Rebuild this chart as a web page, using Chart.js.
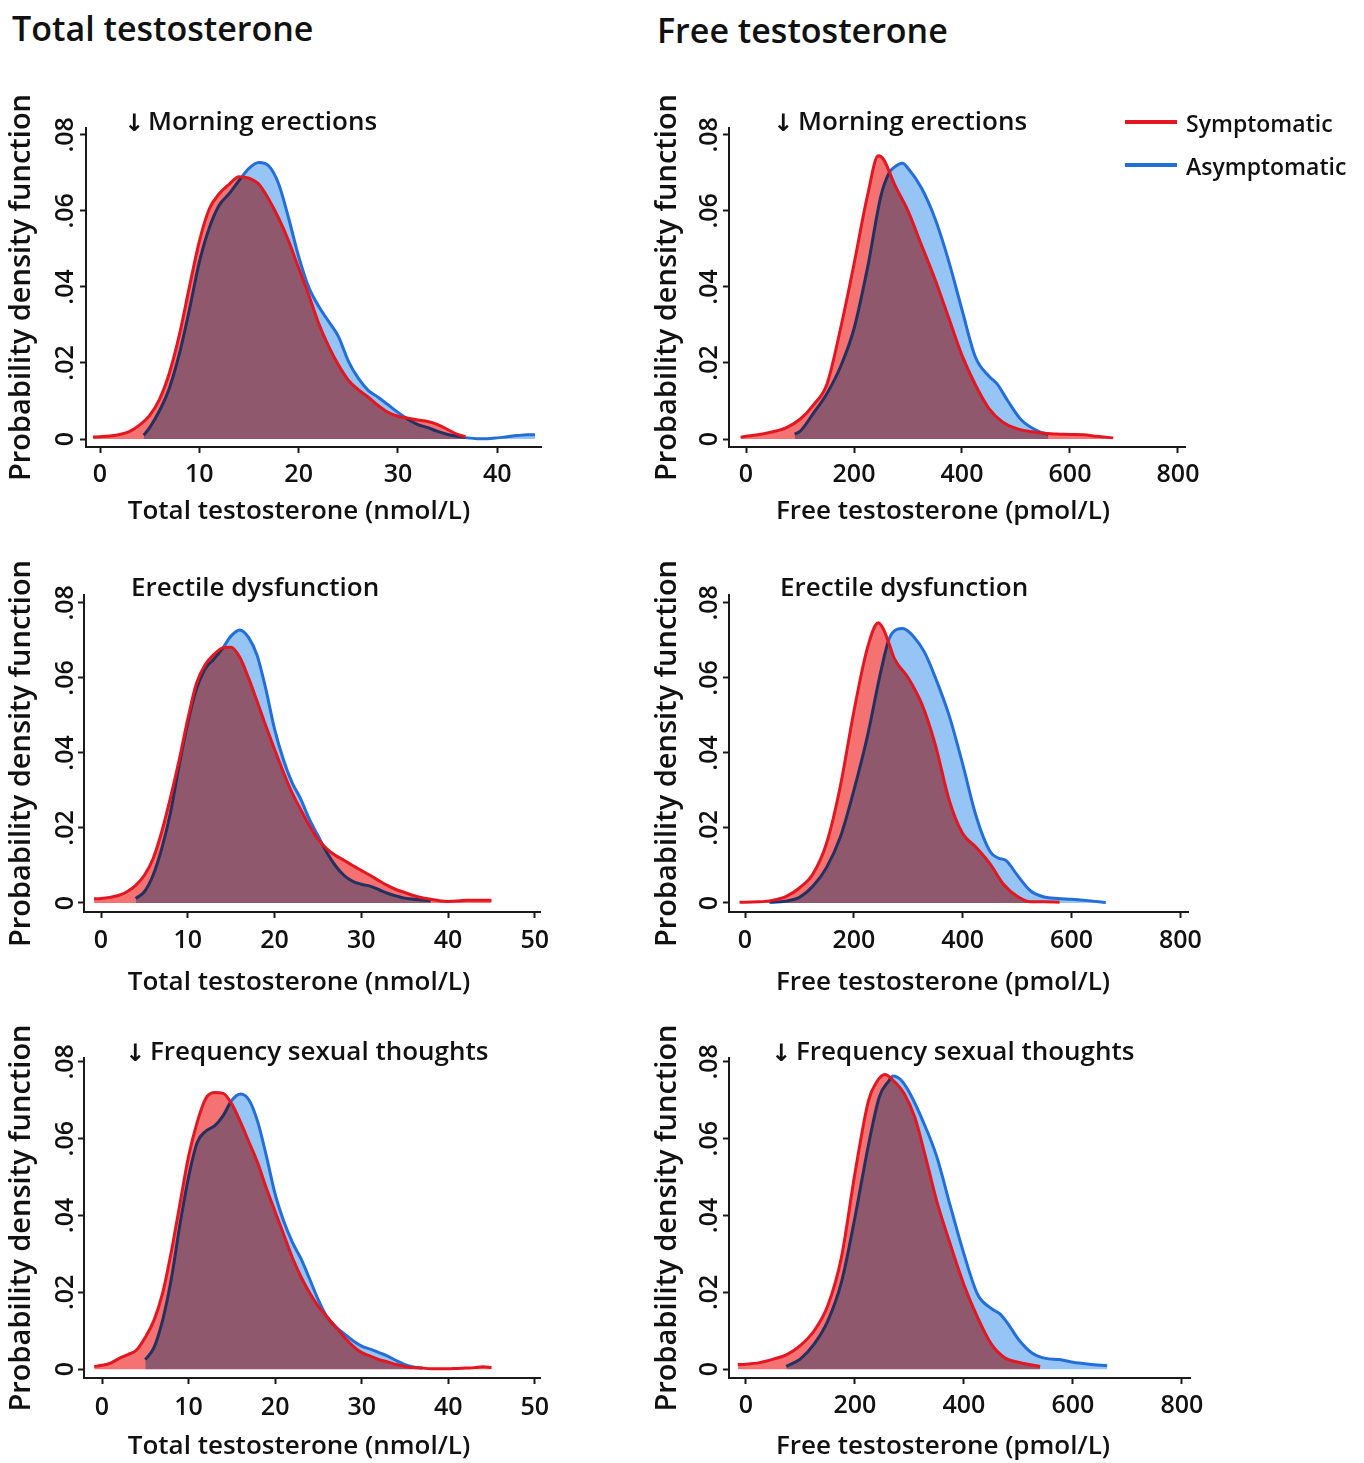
<!DOCTYPE html>
<html>
<head>
<meta charset="utf-8">
<script src="https://cdn.jsdelivr.net/npm/chart.js@4.4.1/dist/chart.umd.min.js"></script>
<style>
  html, body { margin: 0; padding: 0; background: #fff; }
  #page { position: relative; width: 1364px; height: 1463px; overflow: hidden; font-family: "Open Sans", sans-serif; color: #111; }
  #page canvas { position: absolute; }
  .txt { position: absolute; white-space: nowrap; font-weight: 600; }
  .arrow { font-family: "DejaVu Sans", sans-serif; font-weight: 700; }
  .legline { position: absolute; height: 4px; width: 52px; }
</style>
</head>
<body>
<div id="page"></div>
<script>
// tick values and labels
const xTicksTotal40 = [0, 10, 20, 30, 40];
const xTicksTotal50 = [0, 10, 20, 30, 40, 50];
const xTicksFree = [0, 200, 400, 600, 800];
const yTicks = [0, 0.02, 0.04, 0.06, 0.08];
const yTickLabels = ['0', '.02', '.04', '.06', '.08'];

// Morning erections - total testosterone
const meTotalSymX = [-0.7, 0, 1, 2, 3, 4, 5, 6, 7, 8, 9, 10, 11, 12, 13, 14, 15, 16, 17, 18, 19, 20, 21, 22, 23, 24, 25, 26, 27, 28, 29, 30, 31, 32, 33, 34, 35, 36, 36.8];
const meTotalSymY = [0.0005, 0.0006, 0.0008, 0.0012, 0.002, 0.0037, 0.0062, 0.0105, 0.0175, 0.0275, 0.040, 0.052, 0.0605, 0.0645, 0.067, 0.069, 0.0686, 0.067, 0.063, 0.058, 0.052, 0.045, 0.038, 0.0305, 0.0245, 0.0195, 0.0155, 0.013, 0.011, 0.0088, 0.007, 0.006, 0.0055, 0.005, 0.0046, 0.0038, 0.0025, 0.0012, 0.0006];
const meTotalAsymX = [4.4, 5, 6, 7, 8, 9, 10, 11, 12, 13, 14, 15, 16, 17, 18, 19, 20, 21, 22, 23, 24, 25, 26, 27, 28, 29, 30, 31, 32, 33, 34, 35, 36, 37, 38, 39, 40, 41, 42, 43, 43.8];
const meTotalAsymY = [0.001, 0.003, 0.0075, 0.0135, 0.0225, 0.034, 0.0465, 0.0555, 0.0615, 0.0645, 0.068, 0.0712, 0.0727, 0.0718, 0.067, 0.058, 0.048, 0.040, 0.035, 0.031, 0.027, 0.0205, 0.016, 0.0128, 0.011, 0.009, 0.007, 0.0052, 0.0038, 0.003, 0.002, 0.0012, 0.0007, 0.0003, 0.0001, 0.0001, 0.0003, 0.0006, 0.0009, 0.0011, 0.0011];

// Morning erections - free testosterone
const meFreeSymX = [-10, 0, 25, 50, 75, 100, 125, 150, 175, 200, 225, 245, 255, 275, 300, 325, 350, 375, 400, 425, 450, 475, 500, 525, 550, 575, 600, 625, 650, 680];
const meFreeSymY = [0.0005, 0.0007, 0.0012, 0.0019, 0.003, 0.0052, 0.009, 0.0145, 0.029, 0.046, 0.064, 0.0745, 0.0735, 0.067, 0.060, 0.051, 0.042, 0.032, 0.022, 0.0142, 0.008, 0.0045, 0.0028, 0.002, 0.0016, 0.0013, 0.0012, 0.0011, 0.0007, 0.0003];
const meFreeAsymX = [90, 100, 125, 150, 175, 200, 225, 250, 265, 275, 290, 300, 325, 350, 375, 400, 425, 450, 465, 485, 510, 545, 560];
const meFreeAsymY = [0.0013, 0.002, 0.0068, 0.012, 0.019, 0.029, 0.045, 0.064, 0.070, 0.0715, 0.0725, 0.0712, 0.066, 0.058, 0.047, 0.034, 0.0215, 0.0165, 0.0145, 0.010, 0.005, 0.0018, 0.0012];

// Erectile dysfunction - total testosterone
const edTotalSymX = [-0.8, 0, 1, 2, 3, 4, 5, 6, 7, 8, 9, 10, 11, 12, 13, 14, 15, 16, 17, 18, 19, 20, 21, 22, 23, 24, 25, 26, 27, 28, 29, 30, 31, 32, 33, 34, 35, 36, 37, 38, 39, 40, 41, 42, 43, 44, 45];
const edTotalSymY = [0.0011, 0.0012, 0.0015, 0.002, 0.003, 0.0047, 0.0074, 0.0118, 0.019, 0.028, 0.038, 0.049, 0.0585, 0.0635, 0.0662, 0.068, 0.0682, 0.0655, 0.060, 0.0537, 0.0472, 0.041, 0.035, 0.0295, 0.025, 0.0207, 0.017, 0.0145, 0.0127, 0.0114, 0.010, 0.0087, 0.0074, 0.006, 0.0047, 0.0036, 0.0028, 0.002, 0.0014, 0.001, 0.0006, 0.0004, 0.0005, 0.0007, 0.0007, 0.0007, 0.0007];
const edTotalAsymX = [4, 5, 6, 7, 8, 9, 10, 11, 12, 13, 14, 15, 16, 17, 18, 19, 20, 21, 22, 23, 24, 25, 26, 27, 28, 29, 30, 31, 32, 33, 34, 35, 36, 37, 38];
const edTotalAsymY = [0.0012, 0.003, 0.0074, 0.0145, 0.024, 0.0366, 0.048, 0.057, 0.0624, 0.065, 0.0678, 0.0712, 0.0728, 0.0708, 0.066, 0.057, 0.0464, 0.0384, 0.0322, 0.0278, 0.0224, 0.018, 0.0136, 0.010, 0.0074, 0.0058, 0.005, 0.0045, 0.0036, 0.0026, 0.0019, 0.0013, 0.001, 0.0008, 0.0006];

// Erectile dysfunction - free testosterone
const edFreeSymX = [-10, 0, 25, 50, 75, 100, 125, 150, 175, 200, 225, 245, 255, 265, 275, 300, 325, 350, 375, 400, 425, 450, 475, 500, 525, 550, 578];
const edFreeSymY = [0.0002, 0.0002, 0.0003, 0.0007, 0.0017, 0.004, 0.0078, 0.016, 0.031, 0.051, 0.068, 0.0747, 0.0728, 0.069, 0.065, 0.060, 0.053, 0.042, 0.0275, 0.0185, 0.0148, 0.0105, 0.005, 0.0018, 0.0003, 0.0003, 0.0002];
const edFreeAsymX = [45, 75, 100, 125, 150, 175, 200, 225, 250, 265, 280, 290, 310, 330, 350, 375, 400, 425, 450, 465, 480, 500, 525, 550, 575, 600, 625, 663];
const edFreeAsymY = [0.0001, 0.0005, 0.0015, 0.0045, 0.0095, 0.0175, 0.030, 0.0445, 0.062, 0.0705, 0.073, 0.0732, 0.071, 0.0668, 0.060, 0.050, 0.037, 0.023, 0.0138, 0.012, 0.0113, 0.0075, 0.0032, 0.0016, 0.0012, 0.001, 0.0007, 0.0001];

// Frequency sexual thoughts - total testosterone
const stTotalSymX = [-0.9, 0, 1, 2, 3, 4, 5, 6, 7, 8, 9, 10, 11, 12, 13, 14, 15, 16, 17, 18, 19, 20, 21, 22, 23, 24, 25, 26, 27, 28, 29, 30, 31, 32, 33, 34, 35, 36, 37, 38, 39, 40, 41, 42, 43, 44, 45];
const stTotalSymY = [0.0007, 0.001, 0.0016, 0.0028, 0.0038, 0.005, 0.0083, 0.0127, 0.0198, 0.0305, 0.043, 0.0554, 0.0643, 0.0705, 0.072, 0.0718, 0.069, 0.0643, 0.059, 0.0536, 0.047, 0.041, 0.035, 0.029, 0.024, 0.0198, 0.0163, 0.0136, 0.011, 0.0083, 0.006, 0.0043, 0.0034, 0.0025, 0.0019, 0.0012, 0.0007, 0.0004, 0.0003, 0.0001, 0.0001, 0.0001, 0.0002, 0.0003, 0.0004, 0.0006, 0.0004];
const stTotalAsymX = [5, 6, 7, 8, 9, 10, 11, 12, 13, 14, 15, 16, 17, 18, 19, 20, 21, 22, 23, 24, 25, 26, 27, 28, 29, 30, 31, 32, 33, 34, 35, 36, 37];
const stTotalAsymY = [0.0025, 0.0056, 0.0127, 0.0234, 0.0376, 0.050, 0.059, 0.062, 0.0633, 0.066, 0.070, 0.0716, 0.070, 0.0643, 0.0554, 0.0456, 0.0385, 0.033, 0.0287, 0.0234, 0.018, 0.0136, 0.011, 0.0092, 0.0074, 0.006, 0.0052, 0.0043, 0.0034, 0.0022, 0.0012, 0.0006, 0.0003];

// Frequency sexual thoughts - free testosterone
const stFreeSymX = [-15, 0, 25, 50, 75, 100, 125, 150, 175, 200, 225, 240, 255, 270, 290, 310, 330, 350, 375, 400, 425, 450, 475, 500, 525, 540];
const stFreeSymY = [0.0012, 0.0013, 0.0017, 0.0026, 0.0038, 0.0062, 0.010, 0.0165, 0.029, 0.051, 0.070, 0.0748, 0.0767, 0.0752, 0.0718, 0.0655, 0.055, 0.0438, 0.0325, 0.022, 0.0135, 0.0066, 0.003, 0.0018, 0.0011, 0.0007];
const stFreeAsymX = [74, 100, 125, 150, 175, 200, 225, 245, 262, 270, 285, 300, 325, 350, 375, 400, 425, 450, 465, 480, 500, 525, 550, 575, 600, 630, 663];
const stFreeAsymY = [0.0007, 0.0027, 0.0065, 0.0125, 0.0225, 0.0395, 0.0585, 0.071, 0.075, 0.0763, 0.0752, 0.072, 0.0645, 0.0554, 0.0425, 0.030, 0.0195, 0.0158, 0.0145, 0.012, 0.0078, 0.0042, 0.0028, 0.0025, 0.0018, 0.0013, 0.0009];

const RED = 'rgb(228,22,32)';
const BLUE = 'rgb(35,110,215)';
const RED_FILL = 'rgb(244,114,114)';
const BLUE_FILL = 'rgb(150,196,244)';
const TEXT = '#111';
const FONT = '"Open Sans", sans-serif';

const page = document.getElementById('page');

function toPoints(xs, ys) {
  return xs.map((x, i) => ({x: x, y: ys[i]}));
}

function addText(text, left, cy, size, cls) {
  const d = document.createElement('div');
  d.className = 'txt' + (cls ? ' ' + cls : '');
  d.textContent = text;
  d.style.left = left + 'px';
  d.style.top = (cy - size * 0.6) + 'px';
  d.style.fontSize = size + 'px';
  d.style.lineHeight = (size * 1.2) + 'px';
  page.appendChild(d);
}

// fills are multiplied, lines drawn normally on top
const blendPlugin = {
  id: 'blend',
  beforeDatasetsDraw(chart) { chart.ctx.globalCompositeOperation = 'multiply'; },
  beforeDatasetDraw(chart) { chart.ctx.globalCompositeOperation = 'source-over'; },
  afterDatasetDraw(chart) { chart.ctx.globalCompositeOperation = 'multiply'; },
  afterDatasetsDraw(chart) { chart.ctx.globalCompositeOperation = 'source-over'; }
};

function labelPlugin(p) {
  return {
    id: 'panelLabels',
    afterDraw(chart) {
      const ctx = chart.ctx;
      const ys = chart.scales.y;
      ctx.save();
      ctx.fillStyle = TEXT;
      ctx.font = '600 25px ' + FONT;
      ctx.textAlign = 'center';
      ctx.textBaseline = 'middle';
      yTicks.forEach((v, i) => {
        ctx.save();
        ctx.translate(p.yLabX - p.left, ys.getPixelForValue(v));
        ctx.rotate(-Math.PI / 2);
        ctx.fillText(yTickLabels[i], 0, 0);
        ctx.restore();
      });
      ctx.font = '600 26px ' + FONT;
      ctx.fillText(p.xTitle, p.xTitleCx - p.left, p.xTitleCy - p.top);
      ctx.restore();
    }
  };
}

function makePanel(p) {
  const cv = document.createElement('canvas');
  cv.width = p.w;
  cv.height = p.h;
  cv.style.left = p.left + 'px';
  cv.style.top = p.top + 'px';
  page.appendChild(cv);
  const a = p.area;
  const yBoxW = a.l - p.left;
  const xBoxH = p.top + p.h - a.b;
  const tickLen = 6;
  const tickFont = 25;
  const yTitleSize = 29;
  new Chart(cv, {
    type: 'line',
    data: {
      datasets: [
        {
          label: 'Symptomatic', data: toPoints(p.symX, p.symY), order: 1,
          borderColor: RED, backgroundColor: RED_FILL, fill: 'origin',
          borderWidth: 3, pointRadius: 0, cubicInterpolationMode: 'monotone'
        },
        {
          label: 'Asymptomatic', data: toPoints(p.asymX, p.asymY), order: 2,
          borderColor: BLUE, backgroundColor: BLUE_FILL, fill: 'origin',
          borderWidth: 3, pointRadius: 0, cubicInterpolationMode: 'monotone'
        }
      ]
    },
    options: {
      responsive: false,
      animation: false,
      devicePixelRatio: 1,
      layout: { padding: { left: 0, top: a.t - p.top, right: p.left + p.w - a.r, bottom: 0 } },
      plugins: { legend: { display: false }, tooltip: { enabled: false } },
      scales: {
        x: {
          type: 'linear', min: p.xMin, max: p.xMax,
          afterBuildTicks: s => { s.ticks = p.xTicks.map(v => ({value: v})); },
          afterFit: s => { s.height = xBoxH; },
          grid: { display: true, drawOnChartArea: false, drawTicks: true, tickLength: tickLen, tickColor: '#1a1a1a', tickWidth: 2 },
          border: { display: true, color: '#1a1a1a', width: 2 },
          ticks: {
            autoSkip: false, maxRotation: 0, color: TEXT,
            font: { family: FONT, size: tickFont, weight: '600' },
            padding: p.xLabCy - a.b - tickLen - tickFont * 0.6,
            callback: v => String(v)
          }
        },
        y: {
          type: 'linear', min: p.yMin, max: p.yMax,
          afterBuildTicks: s => { s.ticks = yTicks.map(v => ({value: v})); },
          afterFit: s => { s.width = yBoxW; },
          grid: { display: true, drawOnChartArea: false, drawTicks: true, tickLength: tickLen, tickColor: '#1a1a1a', tickWidth: 2 },
          border: { display: true, color: '#1a1a1a', width: 2 },
          ticks: { display: false },
          title: {
            display: true, text: 'Probability density function', color: TEXT,
            font: { family: FONT, size: yTitleSize, weight: '600' },
            padding: { top: p.yTitleCx - p.left - yTitleSize * 0.6, bottom: 0 }
          }
        }
      }
    },
    plugins: [blendPlugin, labelPlugin(p)]
  });
}

const totalTitle = 'Total testosterone (nmol/L)';
const freeTitle = 'Free testosterone (pmol/L)';

const panels = [
  { left: 0, top: 90, w: 580, h: 450, area: {l: 86, t: 128, r: 541, b: 447},
    xMin: -1.41, xMax: 44.4, yMin: -0.0021, yMax: 0.0818, xTicks: xTicksTotal40,
    symX: meTotalSymX, symY: meTotalSymY, asymX: meTotalAsymX, asymY: meTotalAsymY,
    yLabX: 66, yTitleCx: 22, xTitle: totalTitle, xTitleCx: 299, xTitleCy: 512, xLabCy: 475 },
  { left: 640, top: 90, w: 600, h: 450, area: {l: 729, t: 128, r: 1185, b: 447},
    xMin: -31.5, xMax: 813, yMin: -0.0021, yMax: 0.0818, xTicks: xTicksFree,
    symX: meFreeSymX, symY: meFreeSymY, asymX: meFreeAsymX, asymY: meFreeAsymY,
    yLabX: 710, yTitleCx: 668, xTitle: freeTitle, xTitleCx: 943, xTitleCy: 512, xLabCy: 475 },
  { left: 0, top: 555, w: 580, h: 450, area: {l: 84, t: 595, r: 540, b: 912},
    xMin: -1.96, xMax: 50.6, yMin: -0.0024, yMax: 0.0821, xTicks: xTicksTotal50,
    symX: edTotalSymX, symY: edTotalSymY, asymX: edTotalAsymX, asymY: edTotalAsymY,
    yLabX: 66, yTitleCx: 22, xTitle: totalTitle, xTitleCx: 299, xTitleCy: 983, xLabCy: 941 },
  { left: 640, top: 555, w: 600, h: 450, area: {l: 729, t: 595, r: 1188, b: 912},
    xMin: -29.4, xMax: 814, yMin: -0.0024, yMax: 0.0821, xTicks: xTicksFree,
    symX: edFreeSymX, symY: edFreeSymY, asymX: edFreeAsymX, asymY: edFreeAsymY,
    yLabX: 710, yTitleCx: 668, xTitle: freeTitle, xTitleCx: 943, xTitleCy: 983, xLabCy: 941 },
  { left: 0, top: 1020, w: 580, h: 443, area: {l: 84, t: 1058, r: 540, b: 1378},
    xMin: -2.08, xMax: 50.6, yMin: -0.0023, yMax: 0.081, xTicks: xTicksTotal50,
    symX: stTotalSymX, symY: stTotalSymY, asymX: stTotalAsymX, asymY: stTotalAsymY,
    yLabX: 66, yTitleCx: 22, xTitle: totalTitle, xTitleCx: 299, xTitleCy: 1447, xLabCy: 1408 },
  { left: 640, top: 1020, w: 600, h: 443, area: {l: 729, t: 1058, r: 1190, b: 1378},
    xMin: -31.2, xMax: 815, yMin: -0.0023, yMax: 0.081, xTicks: xTicksFree,
    symX: stFreeSymX, symY: stFreeSymY, asymX: stFreeAsymX, asymY: stFreeAsymY,
    yLabX: 710, yTitleCx: 668, xTitle: freeTitle, xTitleCx: 943, xTitleCy: 1447, xLabCy: 1406 }
];

panels.forEach(makePanel);

// headings and panel subtitles
addText('Total testosterone', 12, 28, 34);
addText('Free testosterone', 657, 30, 34);
addText('\u2193', 124, 123, 24, 'arrow');
addText('Morning erections', 148, 121, 26);
addText('\u2193', 773, 123, 24, 'arrow');
addText('Morning erections', 798, 121, 26);
addText('Erectile dysfunction', 131, 587, 26);
addText('Erectile dysfunction', 780, 587, 26);
addText('\u2193', 125, 1053, 24, 'arrow');
addText('Frequency sexual thoughts', 150, 1051, 26);
addText('\u2193', 771, 1053, 24, 'arrow');
addText('Frequency sexual thoughts', 796, 1051, 26);

// legend
const legendItems = [
  { label: 'Symptomatic', color: RED, cy: 122 },
  { label: 'Asymptomatic', color: BLUE, cy: 165 }
];
legendItems.forEach(it => {
  const ln = document.createElement('div');
  ln.className = 'legline';
  ln.style.left = '1125px';
  ln.style.top = (it.cy - 2) + 'px';
  ln.style.background = it.color;
  page.appendChild(ln);
  addText(it.label, 1186, it.cy + 2, 23);
});
</script>
</body>
</html>
